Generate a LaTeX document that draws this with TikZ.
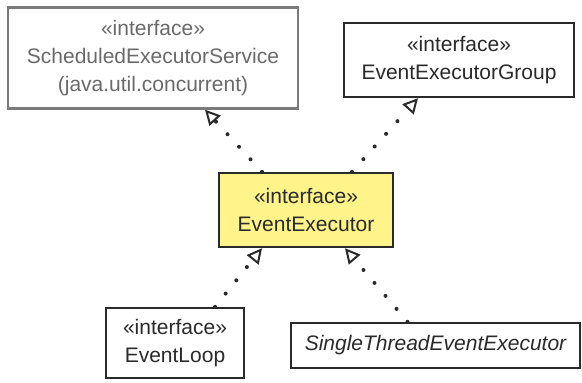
\documentclass[tikz,border=0pt]{standalone}
\usepackage{fontspec}
\setmainfont{Liberation Sans}
\usepackage{xcolor}
\usepackage{tikz}
\usetikzlibrary{arrows.meta}
\definecolor{UMLYellow}{HTML}{FFF38A}
\definecolor{UMLLine}{HTML}{2A2A2A}
\definecolor{UMLMuted}{HTML}{7A7A7A}
\definecolor{UMLMutedText}{HTML}{6A6A6A}

\begin{document}
\begin{tikzpicture}[x=0.5pt,y=-0.5pt,
  classbox/.style={draw=UMLLine,line width=1.2pt,fill=white,align=center,
    inner sep=0pt,font=\fontsize{10.5}{14}\selectfont,text=UMLLine},
  realize/.style={UMLLine,line width=2pt,line cap=round,
    dash pattern=on 0pt off 8.5pt,
    -{Triangle[open,length=7.5pt,width=7.5pt,line width=1pt]}}]
\path[use as bounding box] (0,0) rectangle (582,382);
\fill[white] (0,0) rectangle (582,382);
% classes
\node[classbox,draw=UMLMuted,text=UMLMutedText,minimum width=145pt,minimum height=50.5pt] (sched) at (153,58)
  {\guillemotleft interface\guillemotright\\ScheduledExecutorService\\(java.util.concurrent)};
\node[classbox,minimum width=115pt,minimum height=37pt] (group) at (459,60)
  {\guillemotleft interface\guillemotright\\EventExecutorGroup};
\node[classbox,fill=UMLYellow,minimum width=87pt,minimum height=37pt] (exec) at (306,210)
  {\guillemotleft interface\guillemotright\\EventExecutor};
\node[classbox,minimum width=69pt,minimum height=35pt] (loop) at (175,343)
  {\guillemotleft interface\guillemotright\\EventLoop};
\node[classbox,minimum width=144.5pt,minimum height=22.5pt] (single) at (435.5,345.5)
  {\itshape SingleThreadEventExecutor};
% realizations
\draw[realize] ([xshift=-22pt]exec.north) -- ([xshift=26pt]sched.south);
\draw[realize] ([xshift=23pt]exec.north) -- ([xshift=-20.5pt]group.south);
\draw[realize] ([xshift=20pt]loop.north) -- ([xshift=-22pt]exec.south);
\draw[realize] ([xshift=-14pt]single.north) -- ([xshift=19.5pt]exec.south);
\end{tikzpicture}
\end{document}
